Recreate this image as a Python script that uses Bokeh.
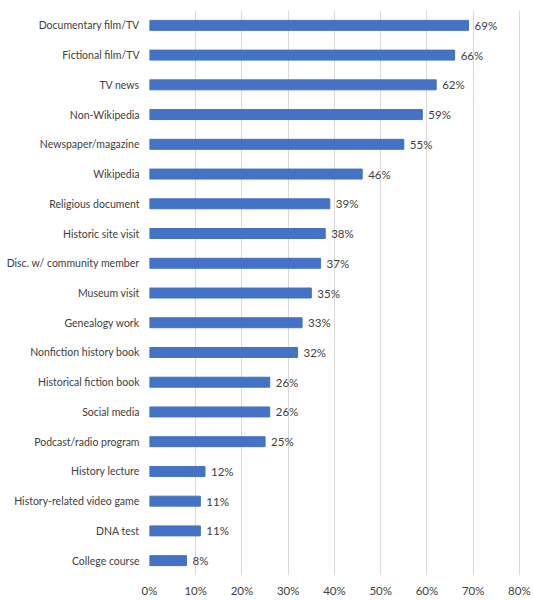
from bokeh.plotting import figure
from bokeh.models import ColumnDataSource, FixedTicker
from bokeh.core.properties import value
from bokeh.embed import file_html
from bokeh.resources import INLINE

categories = ["Documentary film/TV", "Fictional film/TV", "TV news", "Non-Wikipedia",
              "Newspaper/magazine", "Wikipedia", "Religious document", "Historic site visit",
              "Disc. w/ community member", "Museum visit", "Genealogy work",
              "Nonfiction history book", "Historical fiction book", "Social media",
              "Podcast/radio program", "History lecture", "History-related video game",
              "DNA test", "College course"]
percents = [69, 66, 62, 59, 55, 46, 39, 38, 37, 35, 33, 32, 26, 26, 25, 12, 11, 11, 8]
tick_values = [0, 10, 20, 30, 40, 50, 60, 70, 80]

FONT = "Lato"
TEXT_COLOR = "#404040"

src = ColumnDataSource(dict(cat=categories, pct=percents,
                            lbl=[f"{v}%" for v in percents]))

p = figure(y_range=list(reversed(categories)), x_range=(0, 83.05),
           width=533, height=600, output_backend="svg", toolbar_location=None,
           min_border_left=149, min_border_right=0, min_border_top=10,
           min_border_bottom=25)
p.y_range.range_padding = 0
p.outline_line_color = None

p.hbar(y="cat", right="pct", height=0.335, color="#4472C4", source=src)
p.text(x="pct", y="cat", text="lbl", source=src, x_offset=6,
       text_align="left", text_baseline="middle", text_font=value(FONT),
       text_font_size="11.5px", text_color=TEXT_COLOR)

p.xaxis.ticker = FixedTicker(ticks=tick_values)
p.xaxis.major_label_overrides = {t: f"{t}%" for t in tick_values}
p.xaxis.major_label_standoff = 8
p.yaxis.major_label_standoff = 10

for ax in (p.xaxis, p.yaxis):
    ax.axis_line_color = None
    ax.major_tick_line_color = None
    ax.minor_tick_line_color = None
    ax.major_tick_out = 0
    ax.major_tick_in = 0
    ax.minor_tick_out = 0
    ax.major_label_text_font = FONT
    ax.major_label_text_font_size = "11.5px"
    ax.major_label_text_color = TEXT_COLOR
p.yaxis.major_label_text_font_size = "10.5px"

p.ygrid.grid_line_color = None
p.xgrid.grid_line_color = "#D9D9D9"

open("out.html", "w").write(file_html(p, INLINE))
